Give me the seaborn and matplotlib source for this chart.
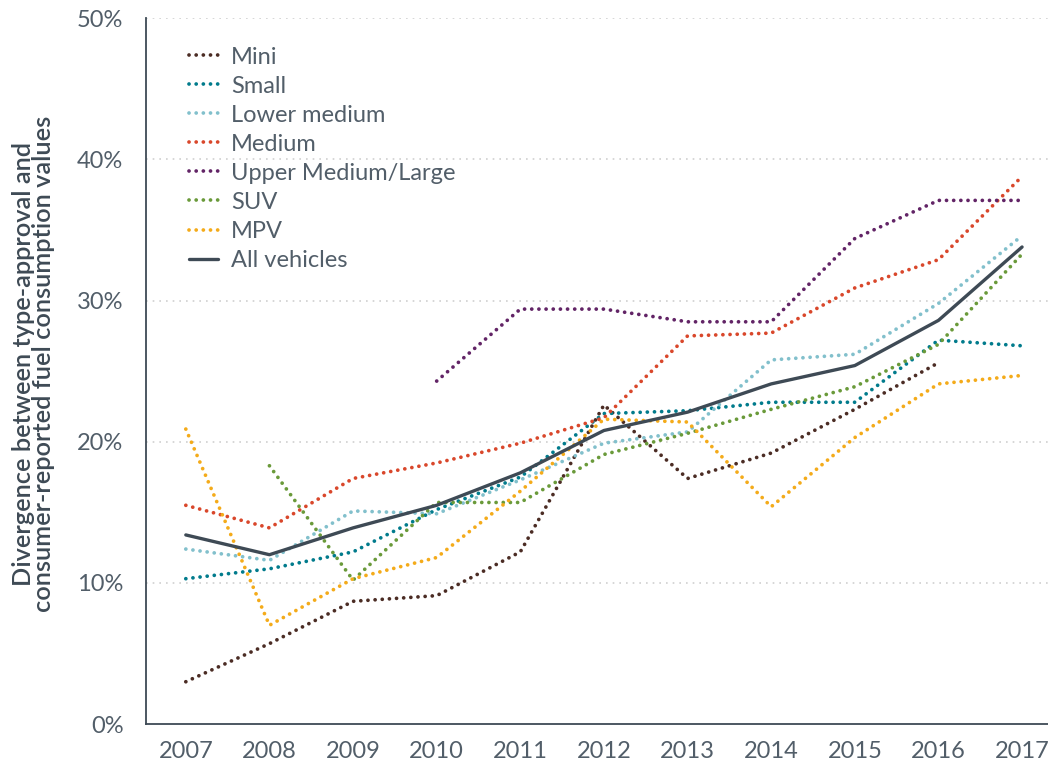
import numpy as np
import pandas as pd
import matplotlib
matplotlib.use("Agg")
import matplotlib.pyplot as plt
import seaborn as sns

# Values (percent)
years = [2007, 2008, 2009, 2010, 2011, 2012, 2013, 2014, 2015, 2016, 2017]
nan = np.nan
mini = [3.0, 5.7, 8.7, 9.1, 12.2, 22.6, 17.4, 19.2, 22.3, 25.6, nan]
small = [10.3, 11.0, 12.2, 15.2, 17.5, 22.0, 22.2, 22.8, 22.8, 27.2, 26.8]
lower_medium = [12.4, 11.6, 15.1, 14.9, 17.3, 19.9, 20.7, 25.8, 26.2, 29.8, 34.6]
medium = [15.5, 13.9, 17.4, 18.5, 19.9, 21.7, 27.5, 27.7, 30.9, 32.9, 38.8]
upper_medium_large = [nan, nan, nan, 24.3, 29.4, 29.4, 28.5, 28.5, 34.4, 37.1, 37.1]
suv = [nan, 18.3, 10.2, 15.7, 15.7, 19.1, 20.6, 22.3, 23.9, 26.9, 33.3]
mpv = [20.9, 7.0, 10.3, 11.8, 16.5, 21.6, 21.4, 15.4, 20.3, 24.1, 24.7]
all_vehicles = [13.4, 12.0, 13.9, 15.5, 17.8, 20.8, 22.1, 24.1, 25.4, 28.6, 33.8]

series = {
    "Mini": (mini, "#4b2c24"),
    "Small": (small, "#017b8c"),
    "Lower medium": (lower_medium, "#82c0cc"),
    "Medium": (medium, "#d9472b"),
    "Upper Medium/Large": (upper_medium_large, "#622466"),
    "SUV": (suv, "#6a9a3a"),
    "MPV": (mpv, "#f4ab1a"),
    "All vehicles": (all_vehicles, "#3e4a55"),
}

sns.set_theme(style="white")
plt.rcParams["font.family"] = ["Lato", "DejaVu Sans"]
text_color = "#525e69"

fig, ax = plt.subplots(figsize=(10.48, 7.63), dpi=100)
fig.subplots_adjust(left=0.139, right=1.0, bottom=0.051, top=0.976)

for name, (vals, color) in series.items():
    df = pd.DataFrame({"year": years, "value": vals}).dropna()
    if name == "All vehicles":
        sns.lineplot(data=df, x="year", y="value", ax=ax, color=color,
                     linewidth=2.4, label=name)
    else:
        line = sns.lineplot(data=df, x="year", y="value", ax=ax, color=color,
                            linewidth=2.7, label=name).lines[-1]
        line.set_linestyle((0, (0.01, 1.9)))
        line.set_dash_capstyle("round")

ax.set_xlim(2006.52, 2017.31)
ax.set_ylim(0, 50)
ax.set_xticks(years)
ax.set_yticks([0, 10, 20, 30, 40, 50])
ax.set_yticklabels([f"{v}%" for v in [0, 10, 20, 30, 40, 50]])
ax.tick_params(axis="both", labelsize=17, colors=text_color, length=0)
ax.tick_params(axis="x", pad=12)
ax.tick_params(axis="y", pad=16)

for v in [10, 20, 30, 40, 50]:
    ax.axhline(v, color="#d0d0d0", linewidth=1.2, linestyle=(0, (1, 3)), zorder=0)

for side in ["top", "right"]:
    ax.spines[side].set_visible(False)
for side in ["left", "bottom"]:
    ax.spines[side].set_color("#3e4a55")
    ax.spines[side].set_linewidth(1.3)

ax.set_xlabel("")
ax.set_ylabel("Divergence between type-approval and\nconsumer-reported fuel consumption values",
              fontsize=18.3, color="#3e4a55", fontweight="semibold", linespacing=0.88)
ax.yaxis.set_label_coords(-0.1, 0.51)

leg = ax.legend(loc="upper left", bbox_to_anchor=(0.025, 0.99), frameon=False,
                fontsize=17, handlelength=1.2, handletextpad=0.55, labelspacing=0.34)
for t in leg.get_texts():
    t.set_color(text_color)

fig.savefig("out.png", dpi=100)
